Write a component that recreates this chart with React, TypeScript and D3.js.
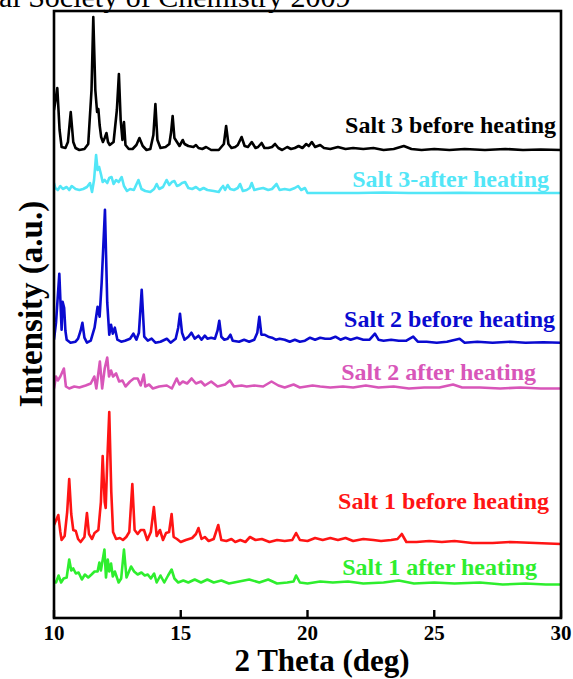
import React from "react";
import * as d3 from "d3";

// 2θ (deg) vs intensity (a.u., relative to each pattern's own baseline)
const salt3Before: [number, number][] = [
  [10.0, 40], [10.13, 62], [10.22, 20], [10.3, 3], [10.45, 2], [10.55, 8], [10.66, 38], [10.76, 8], [10.85, 2], [11.0, 0], [11.2, 1], [11.35, 6], [11.48, 60], [11.55, 133], [11.63, 60], [11.7, 38], [11.75, 41], [11.8, 25], [11.86, 13], [11.93, 8], [12.0, 12], [12.07, 17], [12.13, 8], [12.2, 5], [12.35, 8], [12.48, 40], [12.56, 76], [12.63, 30], [12.7, 10], [12.76, 28], [12.82, 5], [12.95, 1], [13.1, 1], [13.25, 5], [13.37, 12], [13.5, 4], [13.65, 0], [13.8, 1], [13.92, 15], [14.0, 46], [14.08, 10], [14.2, 2], [14.4, 3], [14.55, 6], [14.62, 18], [14.68, 34], [14.75, 12], [14.85, 8], [14.95, 4], [15.08, 10], [15.15, 6], [15.3, 4], [15.5, 3], [15.6, 5], [15.7, 2], [15.85, 1], [16.0, 3], [16.2, 0], [16.5, 0], [16.7, 6], [16.79, 24], [16.88, 6], [17.0, 2], [17.15, 3], [17.25, 5], [17.4, 13], [17.52, 4], [17.65, 3], [17.8, 8], [17.95, 2], [18.05, 3], [18.19, 7], [18.3, 2], [18.45, 2], [18.6, 3], [18.72, 6], [18.85, 2], [19.0, 0], [19.2, 3], [19.35, 1], [19.5, 2], [19.65, 4], [19.8, 2], [19.95, 6], [20.05, 4], [20.17, 8], [20.3, 3], [20.5, 5], [20.65, 2], [20.9, 1], [21.2, 3], [21.5, 1], [21.8, 2], [22.2, 1], [22.6, 2], [23.0, 0], [23.4, 1], [23.8, 4], [24.1, 1], [24.5, 0], [25.0, 1], [25.6, 0], [26.2, 1], [27.0, 0], [27.8, 1], [28.5, 0], [29.2, 0.5], [30, 0],
];
const salt3After: [number, number][] = [
  [10.0, 9], [10.05, 4], [10.15, 2], [10.25, 6], [10.35, 3], [10.5, 5], [10.6, 2], [10.7, 6], [10.85, 3], [11.0, 2], [11.15, 3], [11.3, 5], [11.42, 9], [11.5, 0], [11.58, 12], [11.66, 37], [11.72, 22], [11.78, 25], [11.85, 18], [11.92, 10], [12.0, 12], [12.1, 9], [12.18, 14], [12.27, 15], [12.35, 8], [12.45, 12], [12.55, 10], [12.67, 15], [12.76, 6], [12.88, 1], [13.0, 3], [13.15, 2], [13.33, 12], [13.45, 3], [13.6, 1], [13.8, 0], [13.95, 3], [14.05, 8], [14.15, 3], [14.3, 5], [14.44, 12], [14.55, 7], [14.65, 10], [14.75, 11], [14.85, 6], [14.95, 7], [15.05, 9], [15.17, 10], [15.3, 4], [15.45, 3], [15.6, 5], [15.75, 2], [15.9, 4], [16.05, 2], [16.3, 1], [16.5, 0], [16.6, 4], [16.67, 6], [16.75, 2], [16.85, 7], [16.95, 3], [17.1, 2], [17.25, 4], [17.34, 8], [17.45, 1], [17.6, 2], [17.72, 4], [17.8, 9], [17.9, 2], [18.05, 3], [18.25, 4], [18.45, 2], [18.6, 3], [18.78, 8], [18.9, 2], [19.1, 3], [19.3, 2], [19.5, 4], [19.63, 6], [19.75, 2], [19.9, 4], [20.0, -1], [21, -1], [22, -1], [23, -0.5], [24, -1], [25, -1], [26, -0.7], [27, -1], [28, -1], [29, -1], [30, -1],
];
const salt2Before: [number, number][] = [
  [10.0, 3], [10.08, 20], [10.21, 69], [10.28, 25], [10.3, 13], [10.34, 41], [10.4, 35], [10.45, 12], [10.5, 3], [10.65, 0], [10.85, 1], [10.95, 4], [11.05, 12], [11.12, 20], [11.2, 5], [11.3, 0], [11.45, 2], [11.6, 15], [11.72, 36], [11.8, 26], [11.88, 60], [12.01, 133], [12.1, 40], [12.18, 8], [12.25, 18], [12.32, 9], [12.4, 15], [12.5, 3], [12.65, 1], [12.8, 2], [13.0, 4], [13.13, 9], [13.25, 3], [13.35, 10], [13.46, 53], [13.56, 6], [13.7, 2], [13.85, 4], [14.0, 0], [14.2, 1], [14.45, 4], [14.6, 0], [14.8, 4], [14.9, 15], [14.97, 29], [15.05, 10], [15.15, 3], [15.3, 6], [15.42, 10], [15.55, 4], [15.7, 7], [15.82, 3], [15.95, 7], [16.05, 4], [16.2, 5], [16.35, 4], [16.45, 12], [16.52, 22], [16.6, 6], [16.72, 3], [16.85, 4], [16.96, 8], [17.05, 2], [17.3, 1], [17.5, 3], [17.7, 1], [17.9, 3], [18.02, 10], [18.1, 26], [18.18, 8], [18.3, 8], [18.45, 6], [18.6, 5], [18.75, 3], [18.9, 4], [19.1, 3], [19.3, 1], [19.5, 3], [19.7, 1], [19.9, 2], [20.1, 5], [20.3, 3], [20.5, 5], [20.7, 4], [20.9, 4], [21.1, 6], [21.3, 3], [21.5, 5], [21.7, 3], [21.95, 5], [22.2, 3], [22.45, 3], [22.66, 9], [22.8, 3], [23.0, 2], [23.3, 3], [23.6, 2], [23.9, 2], [24.17, 6], [24.35, 1], [24.7, 1], [25.1, 0], [25.5, 1], [26.0, 4], [26.2, 0], [26.7, 1], [27.3, 0], [28.0, 1], [28.6, 0], [29.3, 0.5], [30, 0],
];
const salt2After: [number, number][] = [
  [10.0, 0], [10.08, 12], [10.15, 8], [10.25, 12], [10.39, 20], [10.47, 2], [10.6, 0], [10.8, 2], [11.0, 1], [11.25, 3], [11.45, 5], [11.59, 12], [11.67, 0], [11.81, 27], [11.9, 0], [12.0, 20], [12.1, 31], [12.17, 12], [12.25, 18], [12.33, 12], [12.45, 15], [12.57, 7], [12.7, 8], [12.82, 2], [13.0, 7], [13.15, 10], [13.3, 10], [13.42, 3], [13.54, 14], [13.6, 2], [13.75, 4], [13.9, 0], [14.15, 2], [14.45, 3], [14.65, 0], [14.84, 10], [14.95, 4], [15.08, 7], [15.25, 5], [15.43, 10], [15.6, 5], [15.8, 7], [15.95, 3], [16.2, 7], [16.45, 2], [16.75, 4], [16.94, 8], [17.1, 2], [17.4, 3], [17.6, 2], [17.9, 3], [18.25, 2], [18.58, 7], [18.85, 3], [19.1, 1], [19.45, 4], [19.7, 1], [19.95, 2], [20.2, 3], [20.5, 2], [20.9, 1], [21.4, 2], [21.8, 1], [22.3, 3], [22.8, 1], [23.4, 2], [24.0, 0], [24.6, 1], [25.2, 1], [25.74, 4], [26.1, 1], [26.8, 1], [27.6, 0], [28.4, 1], [29.2, 0], [30, 0],
];
const salt1Before: [number, number][] = [
  [10.0, 17], [10.17, 27], [10.25, 10], [10.3, 2], [10.42, 6], [10.52, 30], [10.6, 63], [10.68, 28], [10.76, 12], [10.86, 11], [10.95, 3], [11.05, 0], [11.2, 5], [11.3, 29], [11.38, 8], [11.5, 3], [11.6, 9], [11.75, 12], [11.85, 40], [11.92, 86], [12.0, 40], [12.04, 34], [12.1, 80], [12.18, 130], [12.26, 50], [12.33, 10], [12.45, 3], [12.6, 4], [12.72, 2], [12.85, 5], [12.97, 10], [13.09, 58], [13.18, 12], [13.3, 8], [13.42, 12], [13.55, 12], [13.68, 2], [13.82, 10], [13.94, 35], [14.05, 6], [14.18, 12], [14.3, 2], [14.42, 9], [14.54, 10], [14.64, 28], [14.72, 5], [14.85, 3], [15.0, 0], [15.2, 2], [15.45, 4], [15.6, 8], [15.7, 14], [15.82, 3], [15.95, 5], [16.1, 1], [16.3, 3], [16.48, 17], [16.6, 2], [16.8, 1], [17.0, 3], [17.15, 0], [17.35, 2], [17.55, 0], [17.73, 5], [17.95, 2], [18.2, 3], [18.5, 0], [18.8, 2], [19.1, 1], [19.4, 2], [19.55, 9], [19.7, 2], [20.0, 1], [20.3, 4], [20.6, 2], [20.9, 4], [21.2, 2], [21.5, 4], [21.8, 1], [22.2, 3], [22.6, 2], [22.9, 1], [23.3, 2], [23.55, 3], [23.72, 8], [23.9, 0], [24.3, 0], [24.8, 1], [25.3, 0], [25.8, 1], [26.5, -1], [27.3, -1], [28.0, 0], [29.0, -1], [30, -2],
];
const salt1After: [number, number][] = [
  [10.0, 2], [10.08, 1], [10.18, 8], [10.28, 1], [10.38, 5], [10.5, 6], [10.6, 24], [10.68, 13], [10.76, 15], [10.86, 10], [10.97, 11], [11.1, 4], [11.22, 9], [11.35, 6], [11.48, 9], [11.6, 12], [11.72, 12], [11.79, 21], [11.85, 13], [11.99, 34], [12.05, 6], [12.12, 24], [12.18, 12], [12.25, 20], [12.32, 7], [12.4, 12], [12.55, 1], [12.65, 5], [12.76, 34], [12.86, 6], [13.04, 17], [13.16, 12], [13.3, 9], [13.45, 11], [13.58, 8], [13.7, 9], [13.82, 5], [13.95, 10], [14.05, 1], [14.2, 8], [14.35, 1], [14.5, 8], [14.64, 14], [14.75, 5], [14.9, 1], [15.1, 3], [15.3, 1], [15.55, 4], [15.8, 1], [16.05, 4], [16.3, 1], [16.6, 3], [16.9, 0], [17.3, 2], [17.7, 4], [18.1, 1], [18.45, 4], [18.8, 0], [19.2, 1], [19.45, 2], [19.55, 8], [19.7, 1], [20.0, 0], [20.5, 2], [21.0, 1], [21.6, 2], [22.2, 0], [23.0, 1], [23.6, 3], [24.2, 0], [25.0, 1], [25.8, 0], [26.8, 1], [27.7, -1], [28.6, 0], [29.4, -1], [30, -1],
];

const seriesNames = [
  "Salt 3 before heating",
  "Salt 3-after heating",
  "Salt 2 before heating",
  "Salt 2 after heating",
  "Salt 1 before heating",
  "Salt 1 after heating",
];
const seriesData = [salt3Before, salt3After, salt2Before, salt2After, salt1Before, salt1After];
const seriesOffsets = [468, 426, 275.3, 229.5, 76, 34.5];
const seriesColors = ["#000000", "#52e6f7", "#0a0ad0", "#d856b9", "#ff1414", "#2eee2e"];
// label placement (end x in px, baseline in data units above axis)
const labelEnd = [556, 549, 555, 536, 549, 537];
const labelLevel = [485, 431, 291, 238, 109, 43];

const xTicks = [10, 15, 20, 25, 30];

export default function App() {
  const W = 573;
  const H = 679;
  const left = 54, right = 561, top = 11, bottom = 618;
  const x = d3.scaleLinear().domain([10, 30]).range([left, right]);
  const y = d3.scaleLinear().domain([0, bottom - top]).range([bottom, top]);

  return (
    <svg
      width={W}
      height={H}
      style={{ position: "absolute", left: 0, top: 0, background: "#fff" }}
      fontFamily="'Liberation Serif', 'Times New Roman', serif"
    >
      <text x={-1} y={7} fontSize={30} fill="#000">al Society of Chemistry 2009</text>
      <defs>
        <clipPath id="plotclip">
          <rect x={left} y={top} width={right - left} height={bottom - top} />
        </clipPath>
      </defs>
      <g clipPath="url(#plotclip)">
        {seriesData.map((data, i) => {
          const line = d3
            .line<[number, number]>()
            .x((d) => x(d[0]))
            .y((d) => y(d[1] + seriesOffsets[i]));
          return (
            <path
              key={i}
              d={line(data) || ""}
              fill="none"
              stroke={seriesColors[i]}
              strokeWidth={2.6}
              strokeLinejoin="round"
            />
          );
        })}
      </g>
      {seriesNames.map((n, i) => (
        <text
          key={n}
          x={labelEnd[i]}
          y={y(labelLevel[i])}
          textAnchor="end"
          fontSize={24}
          fontWeight="bold"
          fill={seriesColors[i]}
        >
          {n}
        </text>
      ))}
      <rect
        x={left}
        y={top}
        width={right - left}
        height={bottom - top}
        fill="none"
        stroke="#000"
        strokeWidth={2.6}
      />
      {xTicks.map((t) => (
        <g key={t}>
          <line x1={x(t)} x2={x(t)} y1={bottom} y2={bottom - 8} stroke="#000" strokeWidth={2.4} />
          <text x={x(t)} y={640} textAnchor="middle" fontSize={21} fontWeight="bold">
            {t}
          </text>
        </g>
      ))}
      <text x={322} y={671} textAnchor="middle" fontSize={31} fontWeight="bold">
        2 Theta (deg)
      </text>
      <text
        transform={`translate(42, 304) rotate(-90)`}
        textAnchor="middle"
        fontSize={33}
        fontWeight="bold"
      >
        Intensity (a.u.)
      </text>
    </svg>
  );
}
